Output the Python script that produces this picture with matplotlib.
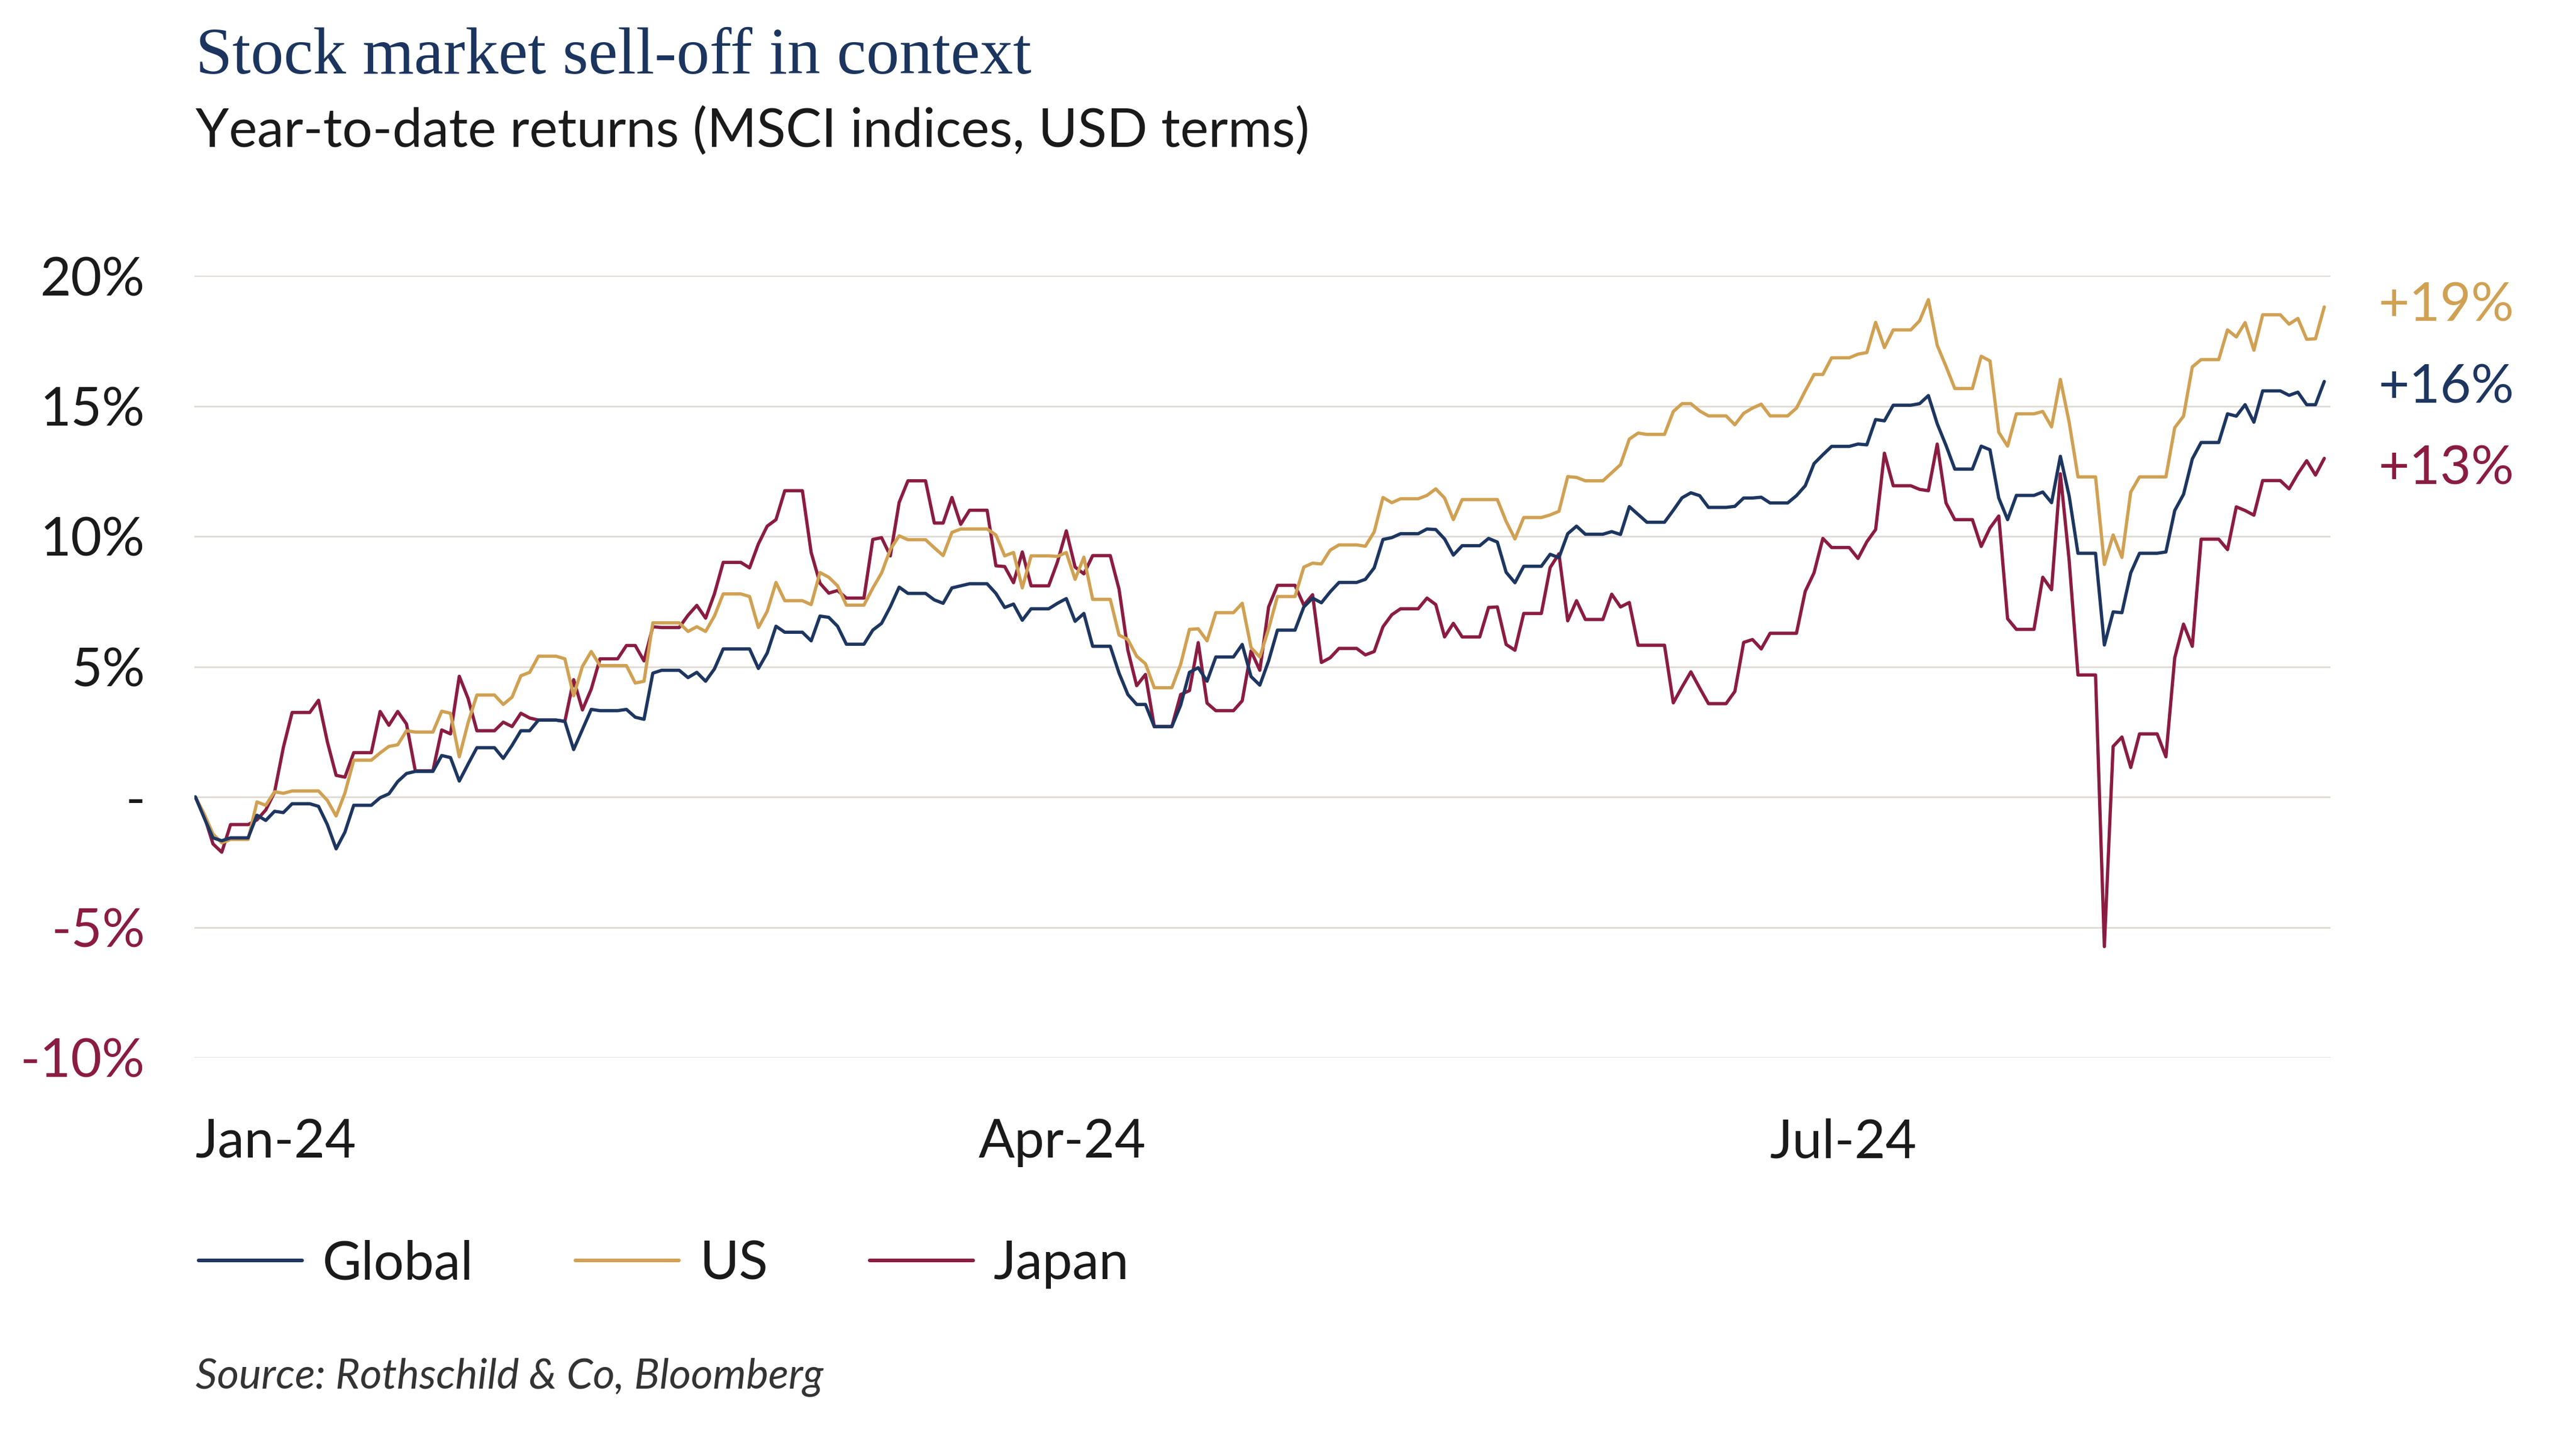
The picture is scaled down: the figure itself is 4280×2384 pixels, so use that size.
import numpy as np
import pandas as pd
import matplotlib
matplotlib.use("Agg")
import matplotlib.pyplot as plt
import matplotlib.dates as mdates

# colours
NAVY = '#1d3660'
GOLD = '#d0a153'
CLARET = '#8a1c41'
GRID = '#dcd7d1'
INK = '#1a1a1a'

SANS = ['Lato', 'DejaVu Sans']
SERIF = ['Liberation Serif', 'DejaVu Serif']

# ---------------------------------------------------------------------------
# data: year-to-date returns (%), one value per weekday, 1 Jan - 30 Aug 2024
# ---------------------------------------------------------------------------
dates = pd.bdate_range('2024-01-01', '2024-08-30')

global_ytd = [
    0.00, -0.80, -1.57, -1.68, -1.57,
    -0.70, -0.90, -0.55, -0.60, -0.26,
    -0.36, -1.06, -1.99, -1.35, -0.32,
    -0.03, 0.12, 0.59, 0.90, 0.98,
    1.59, 1.51, 0.61, 1.26, 1.89,
    1.48, 1.98, 2.54, 2.54, 2.95,
    2.90, 1.82, 2.59, 3.36, 3.31,
    3.36, 3.06, 2.98, 4.75, 4.86,
    4.58, 4.78, 4.44, 4.91, 5.68,
    5.68, 4.93, 5.52, 6.55, 6.32,
    5.99, 6.94, 6.89, 6.55, 5.86,
    6.40, 6.66, 7.30, 8.05, 7.81,
    7.56, 7.43, 8.02, 8.10, 8.18,
    7.81, 7.27, 7.40, 6.78, 7.22,
    7.43, 7.61, 6.74, 7.04, 5.78,
    4.75, 3.93, 3.55, 3.55, 2.70,
    3.52, 4.78, 4.96, 4.44, 5.37,
    5.85, 4.62, 4.29, 5.22, 6.40,
    7.29, 7.63, 7.45, 7.87, 8.23,
    8.35, 8.79, 9.88, 9.95, 10.10,
    10.28, 10.26, 9.90, 9.28, 9.64,
    9.92, 9.78, 8.62, 8.22, 8.85,
    9.31, 9.18, 10.10, 10.39, 10.08,
    10.18, 10.07, 11.14, 10.84, 10.54,
    11.00, 11.48, 11.67, 11.56, 11.11,
    11.15, 11.47, 11.47, 11.50, 11.28,
    11.56, 11.94, 12.79, 13.13, 13.45,
    13.54, 13.51, 14.48, 14.43, 15.03,
    15.09, 15.40, 14.32, 13.49, 12.58,
    13.46, 13.32, 11.47, 10.64, 11.57,
    11.70, 11.29, 13.07, 11.55, 9.35,
    5.83, 7.10, 7.07, 8.60, 9.35,
    9.40, 10.99, 11.61, 12.97, 13.60,
    14.70, 14.61, 15.05, 14.38, 15.58,
    15.41, 15.53, 15.05, 15.05, 15.94,
]

us_ytd = [
    0.00, -0.65, -1.42, -1.76, -1.63,
    -0.19, -0.32, 0.20, 0.14, 0.23,
    0.23, -0.13, -0.73, 0.15, 1.41,
    1.69, 1.94, 2.00, 2.54, 2.49,
    3.29, 3.21, 1.54, 2.85, 3.91,
    3.55, 3.83, 4.65, 4.78, 5.40,
    5.30, 3.88, 5.01, 5.58, 5.04,
    5.04, 4.37, 4.44, 6.68, 6.68,
    6.35, 6.53, 6.35, 6.94, 7.79,
    7.69, 6.50, 7.12, 8.23, 7.53,
    7.38, 8.61, 8.43, 8.10, 7.36,
    8.01, 8.59, 9.50, 10.02, 9.87,
    9.56, 9.26, 10.15, 10.28, 10.28,
    10.05, 9.25, 9.38, 8.02, 9.25,
    9.23, 9.38, 8.35, 9.20, 7.58,
    6.21, 6.04, 5.40, 5.11, 4.19,
    5.09, 6.43, 6.45, 5.99, 7.07,
    7.43, 5.73, 5.37, 6.45, 7.69,
    8.82, 8.97, 8.94, 9.47, 9.67,
    9.62, 10.17, 11.49, 11.29, 11.44,
    11.57, 11.82, 11.47, 10.64, 11.41,
    11.41, 11.41, 10.57, 9.90, 10.72,
    10.82, 10.96, 12.29, 12.26, 12.13,
    12.44, 12.75, 13.73, 13.96, 13.91,
    14.79, 15.09, 15.09, 14.81, 14.62,
    14.28, 14.72, 14.92, 15.07, 14.62,
    14.92, 15.58, 16.21, 16.21, 16.85,
    16.99, 17.05, 18.21, 17.24, 17.92,
    18.27, 19.08, 17.33, 16.52, 15.67,
    16.91, 16.73, 13.99, 13.46, 14.70,
    14.79, 14.20, 16.02, 14.38, 12.28,
    8.92, 10.05, 9.19, 11.70, 12.28,
    12.28, 14.17, 14.61, 16.50, 16.78,
    17.92, 17.65, 18.20, 17.14, 18.50,
    18.14, 18.36, 17.56, 17.58, 18.80,
]

japan_ytd = [
    0.00, -0.72, -1.80, -2.12, -1.06,
    -0.88, -0.50, 0.18, 1.90, 3.24,
    3.71, 2.12, 0.83, 0.76, 1.70,
    3.28, 2.75, 3.28, 2.80, 1.00,
    2.57, 2.42, 4.63, 3.78, 2.54,
    2.87, 2.70, 3.21, 3.03, 2.95,
    2.90, 4.50, 3.34, 4.14, 5.30,
    5.81, 5.81, 5.22, 6.53, 6.50,
    6.97, 7.35, 6.86, 7.79, 9.00,
    8.79, 9.71, 10.39, 10.64, 11.75,
    9.38, 8.20, 7.82, 7.92, 7.63,
    9.88, 9.95, 9.25, 11.30, 12.13,
    10.51, 10.51, 11.49, 10.46, 11.00,
    8.87, 8.84, 8.22, 9.40, 8.10,
    9.02, 10.21, 8.82, 8.56, 9.26,
    7.97, 5.63, 4.27, 4.70, 2.70,
    3.93, 4.08, 5.92, 3.60, 3.31,
    3.69, 5.60, 4.86, 7.29, 8.12,
    7.36, 7.76, 5.16, 5.34, 5.70,
    5.45, 5.58, 6.53, 6.99, 7.22,
    7.63, 7.38, 6.14, 6.66, 6.14,
    7.27, 7.29, 5.85, 5.63, 7.04,
    8.80, 9.33, 6.76, 7.53, 6.81,
    7.78, 7.29, 7.46, 5.82, 5.82,
    3.61, 4.22, 4.80, 4.18, 3.58,
    4.05, 5.93, 6.04, 5.68, 6.28,
    6.28, 7.89, 8.60, 9.92, 9.57,
    9.15, 9.79, 10.26, 13.19, 11.94,
    11.80, 11.75, 13.54, 11.28, 10.64,
    9.61, 10.32, 10.78, 6.84, 6.43,
    8.43, 7.95, 12.40, 9.08, 4.68,
    -5.74, 1.94, 2.30, 1.13, 2.42,
    1.54, 5.34, 6.63, 5.78, 9.89,
    9.49, 11.13, 10.99, 10.81, 12.14,
    11.82, 12.40, 12.90, 12.35, 12.99,
]

series_names = ['Global', 'US', 'Japan']
series_colors = [NAVY, GOLD, CLARET]

y_ticks = [-10, -5, 0, 5, 10, 15, 20]
y_labels = ['-10%', '-5%', '-', '5%', '10%', '15%', '20%']
x_tick_dates = ['2024-01-01', '2024-03-30', '2024-06-28']
x_tick_labels = ['Jan-24', 'Apr-24', 'Jul-24']

# the chart carries the last close over weekends (flat steps)
df = pd.DataFrame({'Global': global_ytd, 'US': us_ytd, 'Japan': japan_ytd}, index=dates)
daily = df.reindex(pd.date_range(dates[0], dates[-1], freq='D')).ffill()

# ---------------------------------------------------------------------------
# figure
# ---------------------------------------------------------------------------
W, H = 4280, 2384
fig = plt.figure(figsize=(W / 100, H / 100), dpi=100)
fig.patch.set_facecolor('white')

ax = fig.add_axes([323 / W, 1 - 1757 / H, (3872 - 323) / W, (1757 - 458) / H])

# Japan first, then US, Global on top
for name in ['Japan', 'US', 'Global']:
    c = series_colors[series_names.index(name)]
    ax.plot(daily.index, daily[name], color=c, lw=3.9, label=name,
            solid_joinstyle='round', solid_capstyle='round', zorder=3)

x0 = mdates.date2num(daily.index[0])
ax.set_xlim(x0 - 0.11, x0 + 242.7)
ax.set_ylim(-10, 20)

for s in ax.spines.values():
    s.set_visible(False)
ax.set_yticks(y_ticks)
ax.set_yticklabels(y_labels)
ax.yaxis.grid(True, color=GRID, lw=1.8)
ax.xaxis.grid(False)
ax.set_axisbelow(True)
ax.tick_params(axis='y', length=0, pad=59, labelsize=64, labelcolor=INK)
for lab, v in zip(ax.get_yticklabels(), y_ticks):
    lab.set_fontfamily(SANS)
    if v < 0:
        lab.set_color(CLARET)

ax.set_xticks(mdates.date2num(pd.to_datetime(x_tick_dates)))
ax.set_xticklabels(x_tick_labels)
ax.tick_params(axis='x', length=0, pad=72, labelsize=64, labelcolor=INK)
for lab in ax.get_xticklabels():
    lab.set_fontfamily(SANS)
    lab.set_horizontalalignment('left')

# end-of-period labels
last = df.iloc[-1]
label_baselines = {'US': 533, 'Global': 669, 'Japan': 805}
for name in ['US', 'Global', 'Japan']:
    c = series_colors[series_names.index(name)]
    fig.text(3952 / W, 1 - label_baselines[name] / H, f'+{last[name]:.0f}%',
             color=c, fontsize=64, family=SANS, va='baseline')

# titles
fig.text(325 / W, 1 - 122 / H, 'Stock market sell-off in context',
         color='#1c355e', fontsize=79, family=SERIF, va='baseline')
fig.text(325 / W, 1 - 244 / H, 'Year-to-date returns (MSCI indices, USD terms)',
         color=INK, fontsize=64, family=SANS, va='baseline')

# legend
handles, labels = ax.get_legend_handles_labels()
order = [labels.index(n) for n in series_names]
leg = fig.legend([handles[i] for i in order], [labels[i] for i in order],
                 loc='center left', bbox_to_anchor=(330 / W, 1 - 2100 / H),
                 ncol=3, frameon=False, borderpad=0, borderaxespad=0,
                 handlelength=1.94, handletextpad=0.38, columnspacing=1.9,
                 prop={'family': SANS, 'size': 64})
for lh in leg.get_lines():
    lh.set_linewidth(4.3)
for t in leg.get_texts():
    t.set_color(INK)

fig.text(325 / W, 1 - 2306 / H, 'Source: Rothschild & Co, Bloomberg',
         color='#333333', fontsize=50.5, family=SANS, style='italic', va='baseline')

fig.savefig('out.png', dpi=100, facecolor='white')
